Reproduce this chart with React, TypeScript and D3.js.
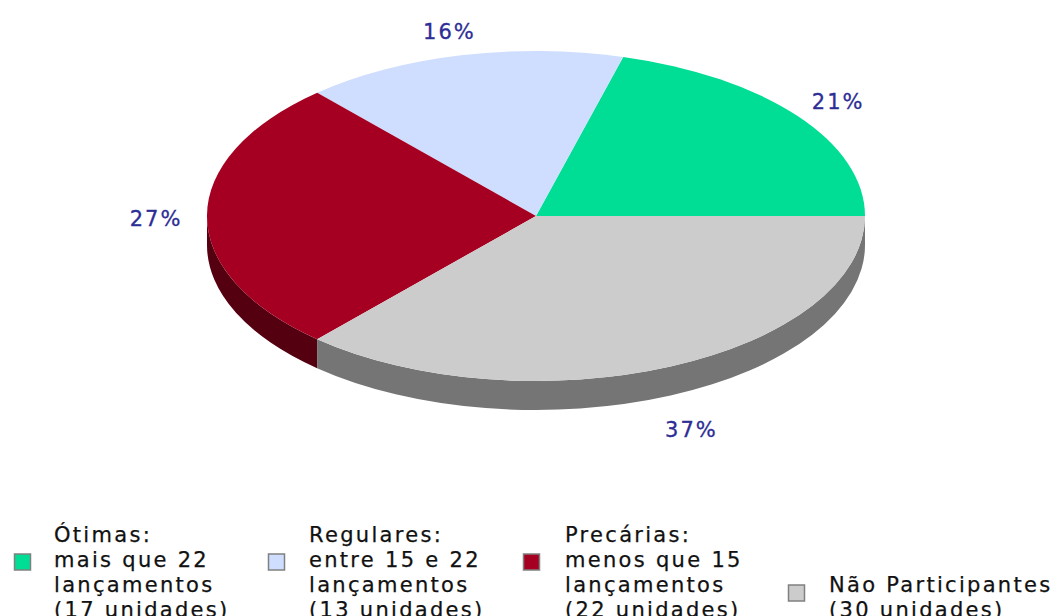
import React from 'react';
import * as d3 from 'd3';

// chart data
const categories = ['Ótimas', 'Regulares', 'Precárias', 'Não Participantes'];
const units = [17, 13, 22, 30];
const percentLabels = ['21%', '16%', '27%', '37%'];
const legendLines = [
  ['Ótimas:', 'mais que 22', 'lançamentos', '(17 unidades)'],
  ['Regulares:', 'entre 15 e 22', 'lançamentos', '(13 unidades)'],
  ['Precárias:', 'menos que 15', 'lançamentos', '(22 unidades)'],
  ['Não Participantes', '(30 unidades)'],
];
const topColors = ['#00dd94', '#cfdeff', '#a50021', '#cccccc'];
const sideColors = ['#007a52', '#7f8cb0', '#550010', '#757575'];

const W = 1056;
const H = 616;
const cx = 536;
const cy = 216;
const rx = 329;
const ry = 165;
const depth = 29;

const pt = (a: number, dy = 0) => [cx + rx * Math.sin(a), cy - ry * Math.cos(a) + dy];

const App = () => {
  const pie = d3
    .pie<number>()
    .sort(null)
    .startAngle(Math.PI / 2)
    .endAngle(Math.PI / 2 - 2 * Math.PI);
  const arcs = pie(units);

  const arc = d3.arc<d3.PieArcDatum<number>>().innerRadius(0).outerRadius(1);

  // visible outer wall: angles in [-3π/2, -π/2] (lower half of ellipse)
  const sides = arcs
    .map((d, i) => {
      const hi = Math.min(d.startAngle, -Math.PI / 2);
      const lo = Math.max(d.endAngle, -1.5 * Math.PI);
      if (hi <= lo) return null;
      const [x1, y1] = pt(hi);
      const [x2, y2] = pt(lo);
      const [x3, y3] = pt(lo, depth);
      const [x4, y4] = pt(hi, depth);
      const path = `M${x1},${y1} A${rx},${ry} 0 0 0 ${x2},${y2} L${x3},${y3} A${rx},${ry} 0 0 1 ${x4},${y4} Z`;
      return { path, color: sideColors[i] };
    })
    .filter(Boolean) as { path: string; color: string }[];

  const labelPos = (d: d3.PieArcDatum<number>) => {
    const a = (d.startAngle + d.endAngle) / 2;
    const x = cx + 380 * Math.sin(a);
    const c = Math.cos(a);
    const y = cy - 192 * c + (c < 0 ? 38 : 2);
    return [x, y];
  };

  const legendX = [14, 268, 523, 788];
  const textX = [54, 309, 565, 829];
  const lineH = 25;
  const lastBaseline = 617;

  return (
    <div style={{ position: 'absolute', left: 0, top: 0 }}>
      <svg width={W} height={H} style={{ display: 'block', background: '#fff' }}>
        {sides.map((s, i) => (
          <path key={'s' + i} d={s.path} fill={s.color} />
        ))}
        <g transform={`translate(${cx},${cy}) scale(${rx},${ry})`}>
          {arcs.map((d, i) => (
            <path key={'a' + i} d={arc(d) as string} fill={topColors[i]} />
          ))}
        </g>
        {arcs.map((d, i) => {
          const [x, y] = labelPos(d);
          return (
            <text
              key={'l' + i}
              x={x}
              y={y}
              dy="0.36em"
              textAnchor="middle"
              fontFamily="DejaVu Sans"
              fontSize={21}
              letterSpacing={2}
              fill="#2d2d96"
              stroke="#2d2d96"
              strokeWidth={0.3}
            >
              {percentLabels[i]}
            </text>
          );
        })}
        {categories.map((c, i) => {
          const lines = legendLines[i];
          const firstBaseline = lastBaseline - (lines.length - 1) * lineH;
          const mid = lastBaseline - 8.5 - 15.5 * (lines.length - 1);
          return (
            <g key={c}>
              <rect
                x={legendX[i] + 0.5}
                y={mid - 8}
                width={16}
                height={16}
                fill={topColors[i]}
                stroke="#808080"
                strokeWidth={1.5}
              />
              {lines.map((ln, j) => (
                <text
                  key={j}
                  x={textX[i]}
                  y={firstBaseline + j * lineH}
                  fontFamily="DejaVu Sans"
                  fontSize={21}
                  letterSpacing={2.3}
                  fill="#111"
                  stroke="#111"
                  strokeWidth={0.25}
                >
                  {ln}
                </text>
              ))}
            </g>
          );
        })}
      </svg>
    </div>
  );
};

export default App;
